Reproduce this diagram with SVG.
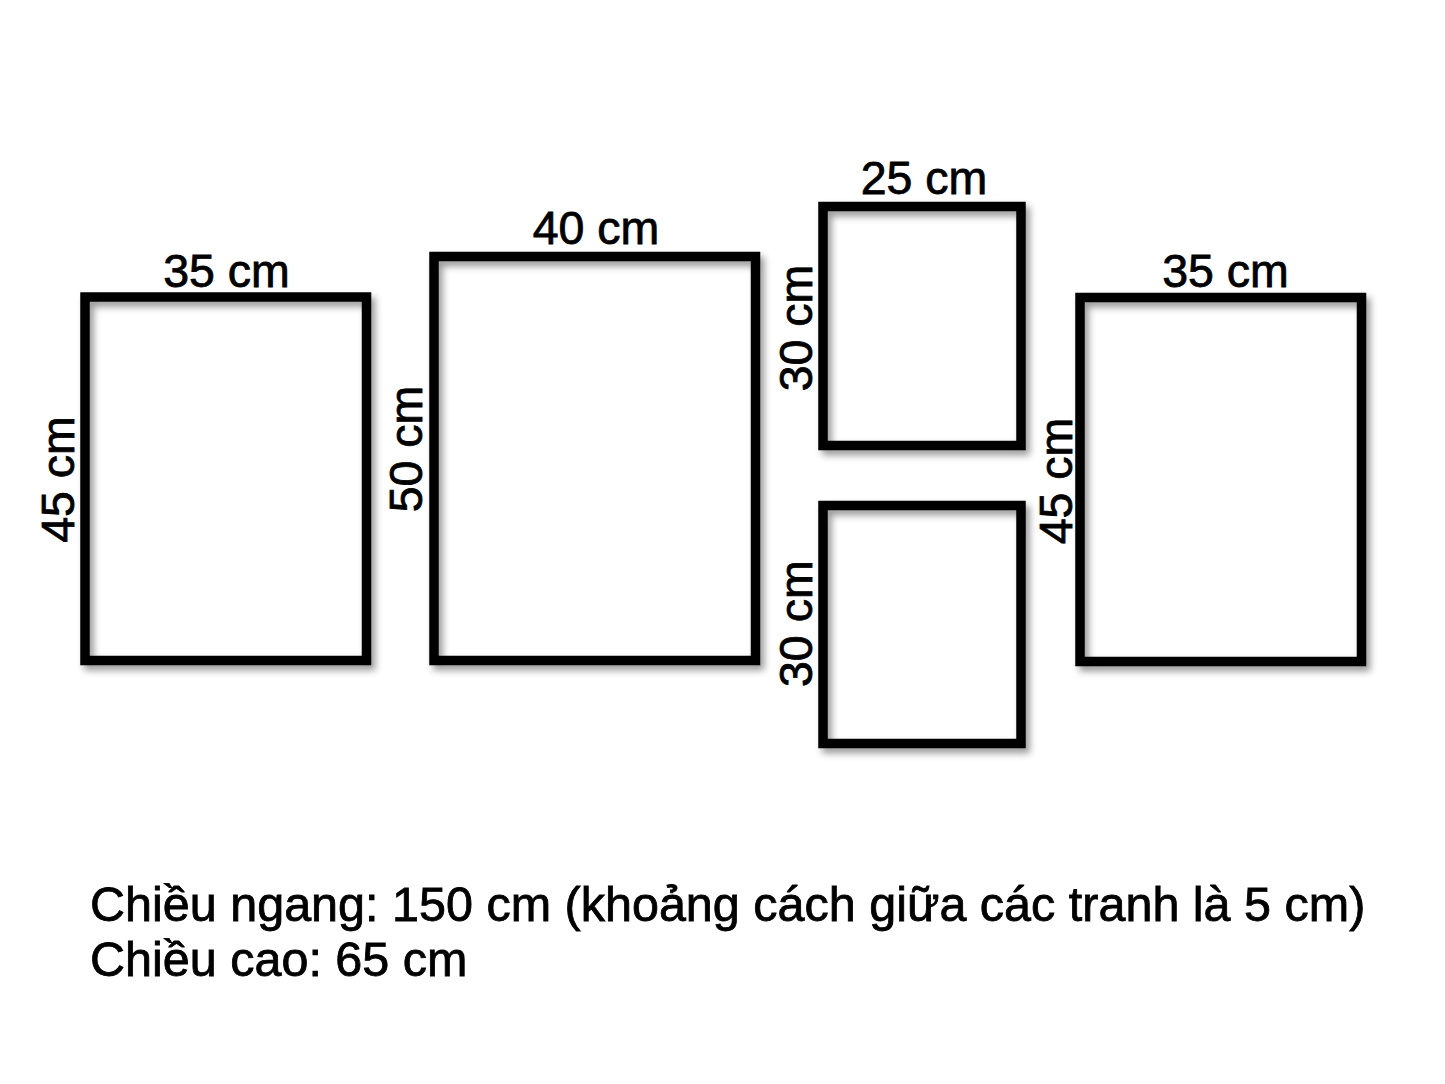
<svg xmlns="http://www.w3.org/2000/svg" width="1445" height="1084" viewBox="0 0 1445 1084">
<defs>
<filter id="sh" x="-10%" y="-10%" width="125%" height="125%">
<feDropShadow dx="4" dy="5" stdDeviation="3.5" flood-color="#000" flood-opacity="0.4"/>
</filter>
<style>
.frame{fill:none;stroke:#000;stroke-width:9.5;filter:url(#sh)}
.lbl{font-family:"Liberation Sans",Arial,sans-serif;font-size:46.5px;fill:#000;stroke:#000;stroke-width:0.8;text-anchor:middle}
.note{font-family:"Liberation Sans",Arial,sans-serif;font-size:48.5px;fill:#000;stroke:#000;stroke-width:0.8}
</style>
</defs>
<rect width="1445" height="1084" fill="#fff"/>
<g id="frame1">
<rect class="frame" x="85" y="297" width="281.5" height="363.5"/>
<text class="lbl" x="226.5" y="286.7">35 cm</text>
<text class="lbl" transform="translate(73.5,479.5) rotate(-90)">45 cm</text>
</g>
<g id="frame2">
<rect class="frame" x="434" y="256.5" width="321.5" height="404"/>
<text class="lbl" x="596" y="244.3">40 cm</text>
<text class="lbl" transform="translate(421.7,449) rotate(-90)">50 cm</text>
</g>
<g id="frame3">
<rect class="frame" x="823" y="206.5" width="198" height="239"/>
<text class="lbl" x="924" y="194.3">25 cm</text>
<text class="lbl" transform="translate(812,328) rotate(-90)">30 cm</text>
</g>
<g id="frame4">
<rect class="frame" x="823" y="505.5" width="198" height="238"/>
<text class="lbl" transform="translate(812.3,623.7) rotate(-90)">30 cm</text>
</g>
<g id="frame5">
<rect class="frame" x="1080" y="297.5" width="281.5" height="364"/>
<text class="lbl" x="1225.5" y="286.7">35 cm</text>
<text class="lbl" transform="translate(1072.3,481) rotate(-90)">45 cm</text>
</g>
<g id="connectors"></g>
<g id="notes">
<text class="note" x="90" y="921">Chiều ngang: 150 cm (khoảng cách giữa các tranh là 5 cm)</text>
<text class="note" x="90" y="976">Chiều cao: 65 cm</text>
</g>
</svg>
